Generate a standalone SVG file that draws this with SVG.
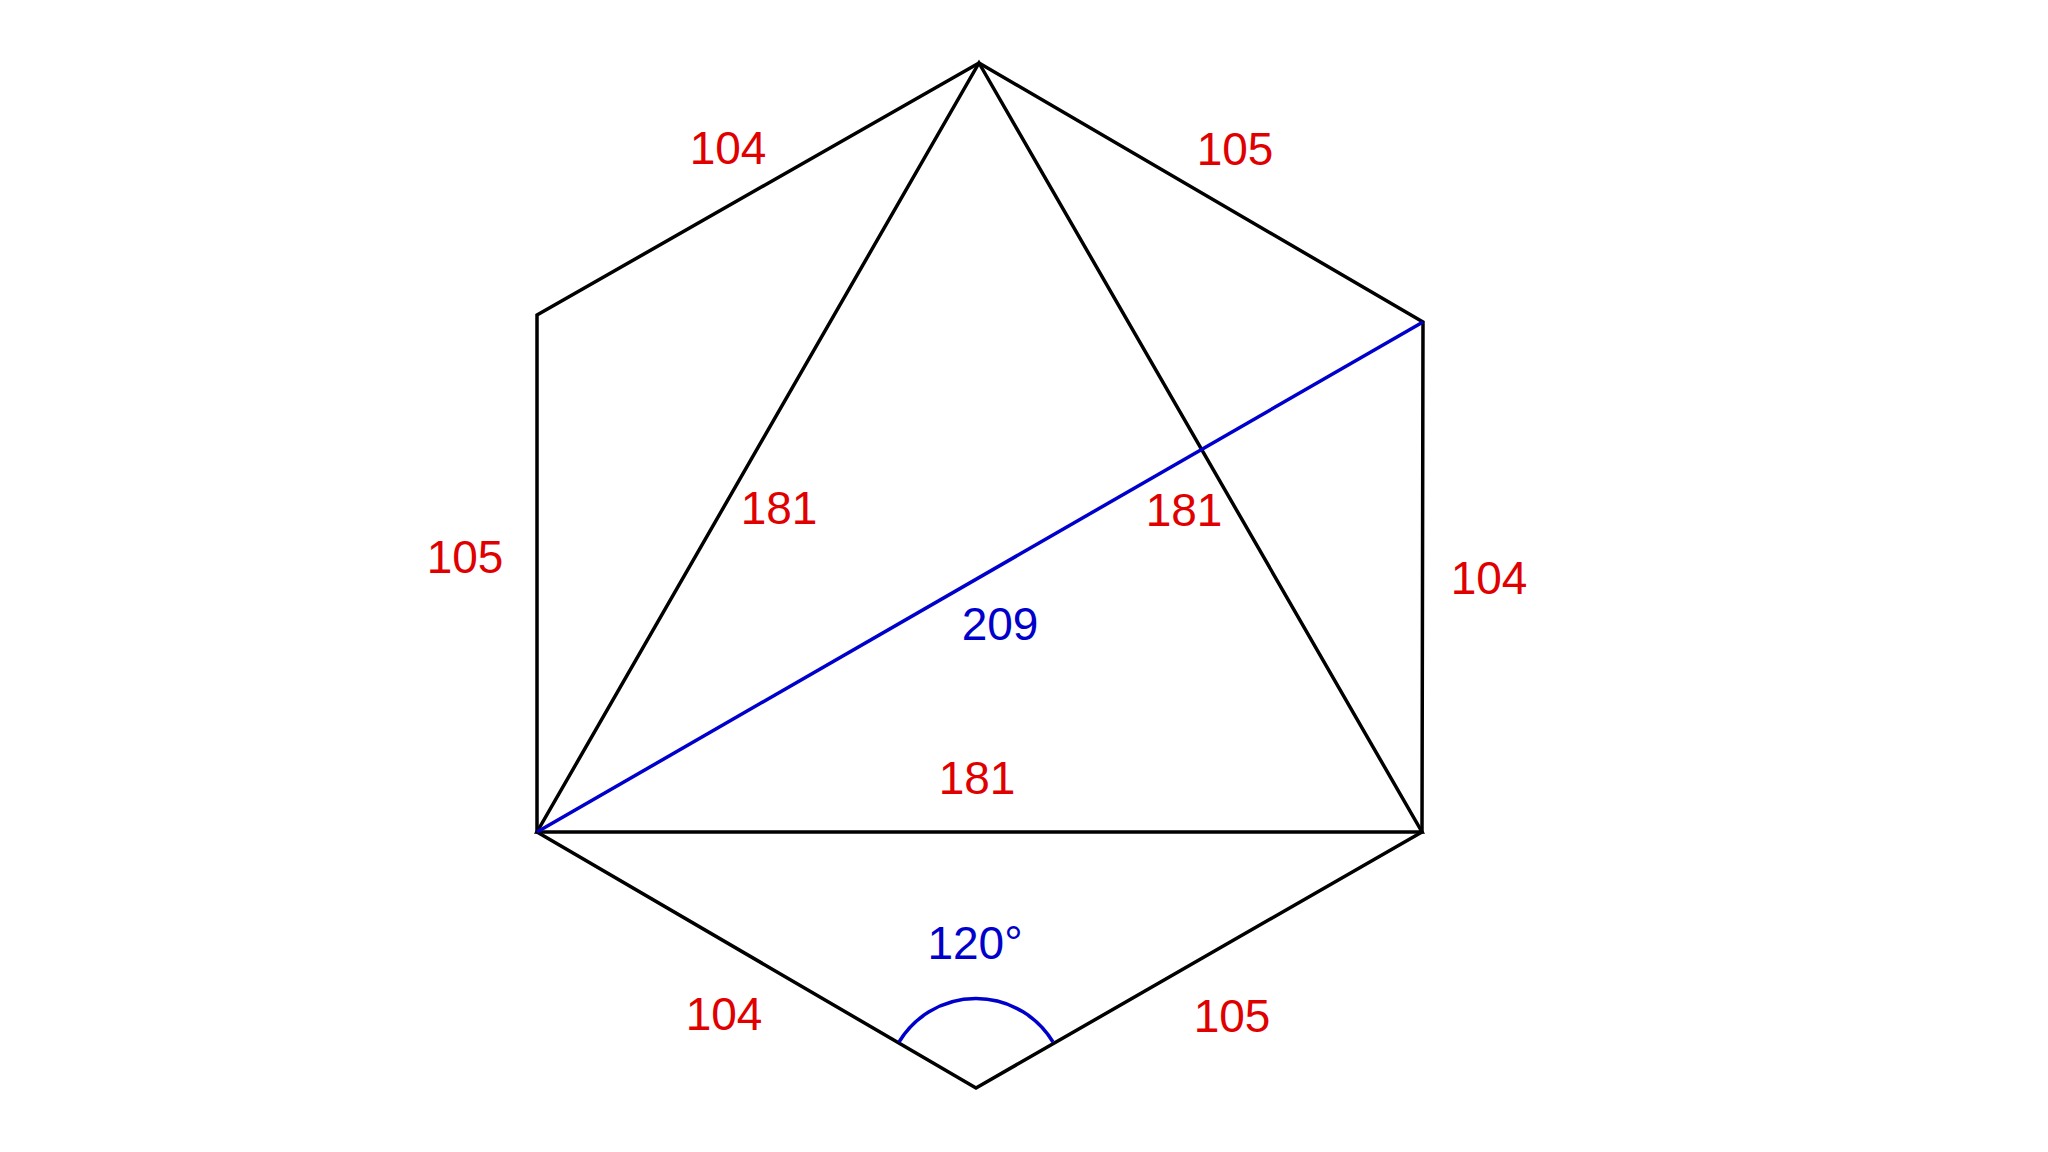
<svg xmlns="http://www.w3.org/2000/svg" width="2048" height="1152" viewBox="0 0 2048 1152">
<style>
.edge{fill:none;stroke:#000;stroke-width:3.5;stroke-linejoin:miter}
.blue{fill:none;stroke:#0000cc;stroke-width:3.5}
.lr{font-family:"Liberation Sans",Arial,sans-serif;font-size:46px;fill:#e00000;text-anchor:middle}
.lb{font-family:"Liberation Sans",Arial,sans-serif;font-size:46px;fill:#0000cc;text-anchor:middle}
</style>
<rect width="2048" height="1152" fill="#fff"/>
<g id="connectors">
<polygon class="edge" points="979,63 1423,322 1422,832 976,1088 537,832 537,315"/>
<polygon class="edge" points="979,63 1422,832 537,832"/>
<line class="blue" x1="537" y1="832" x2="1423" y2="322"/>
<path class="blue" d="M899,1042 A90,90 0 0 1 1053,1042"/>
</g>
<g id="labels">
<text class="lr" x="728" y="164">104</text>
<text class="lr" x="1235" y="165">105</text>
<text class="lr" x="465" y="573">105</text>
<text class="lr" x="1489" y="594">104</text>
<text class="lr" x="779" y="524">181</text>
<text class="lr" x="1184" y="526">181</text>
<text class="lb" x="1000" y="640">209</text>
<text class="lr" x="977" y="794">181</text>
<text class="lb" x="975" y="959">120°</text>
<text class="lr" x="724" y="1030">104</text>
<text class="lr" x="1232" y="1032">105</text>
</g>
</svg>
